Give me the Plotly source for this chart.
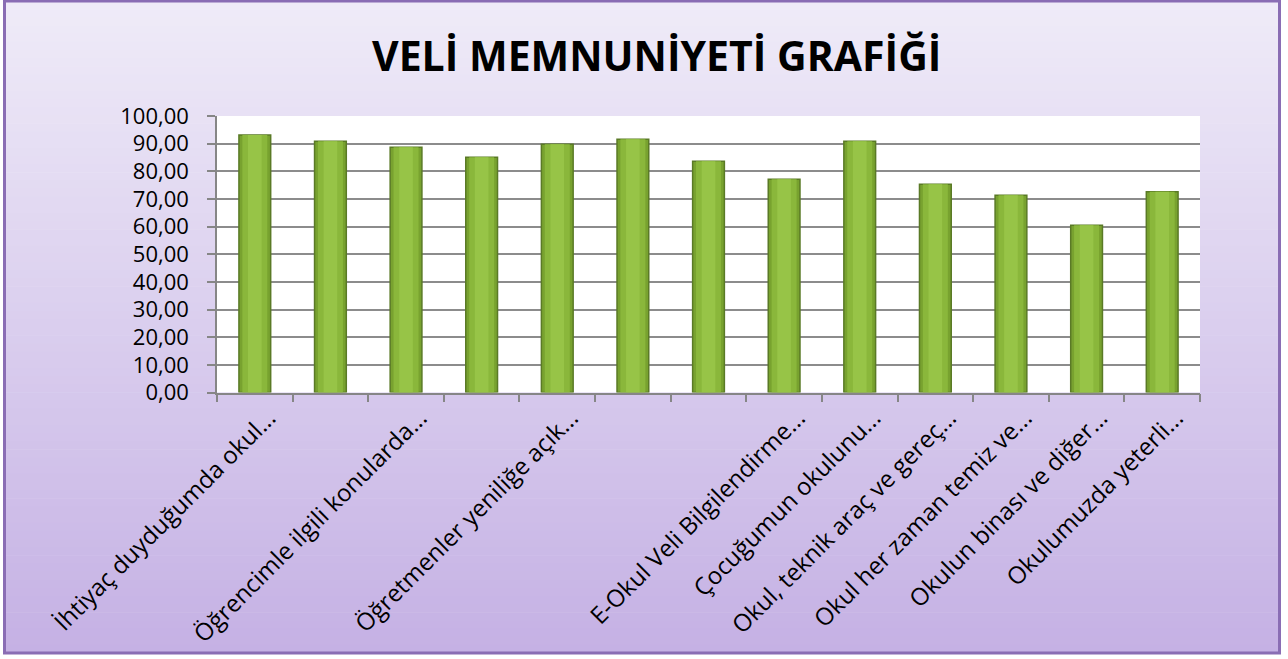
import plotly.graph_objects as go

W, H = 1288, 659

categories = [
    "İhtiyaç duyduğumda okul...",
    "",
    "Öğrencimle ilgili konularda...",
    "",
    "Öğretmenler yeniliğe açık...",
    "",
    "",
    "E-Okul Veli Bilgilendirme...",
    "Çocuğumun okulunu...",
    "Okul, teknik araç ve gereç...",
    "Okul her zaman temiz ve...",
    "Okulun binası ve diğer...",
    "Okulumuzda yeterli...",
]
values = [93.1, 90.9, 88.7, 85.1, 89.8, 91.6, 83.6, 77.1, 90.9, 75.3, 71.3, 60.5, 72.6]
y_ticks = [0, 10, 20, 30, 40, 50, 60, 70, 80, 90, 100]
title_text = "VELİ MEMNUNİYETİ GRAFİĞİ"

xpos = list(range(len(values)))

def px(x):
    return x / W

def py(y):
    return 1 - y / H

def hexc(c):
    return tuple(int(c[i:i + 2], 16) for i in (1, 3, 5))

top_c = hexc("#EFEBF8")
bot_c = hexc("#C5B1E4")

shapes = []
y0f, y1f = 1, 653
n = 80
for i in range(n):
    t = i / (n - 1)
    col = tuple(round(top_c[k] + (bot_c[k] - top_c[k]) * t) for k in range(3))
    a = y0f + (y1f - y0f) * i / n
    b = y0f + (y1f - y0f) * (i + 1) / n + 0.6
    shapes.append(dict(type="rect", xref="paper", yref="paper", layer="below",
                       x0=px(4), x1=px(1279), y0=py(b), y1=py(a),
                       fillcolor="rgb(%d,%d,%d)" % col, line=dict(width=0)))
# outer frame
shapes.append(dict(type="rect", xref="paper", yref="paper", layer="below",
                   x0=px(4.5), x1=px(1279.5), y0=py(653), y1=py(1),
                   fillcolor="rgba(0,0,0,0)", line=dict(color="#8A6DB4", width=3)))
# white plot area
shapes.append(dict(type="rect", xref="x domain", yref="y domain", layer="below",
                   x0=0, x1=1, y0=0, y1=1, fillcolor="white", line=dict(width=0)))

fig = go.Figure()
# layered bars to mimic the bevelled gradient look
fig.add_trace(go.Bar(
    x=xpos, y=values, width=0.42,
    marker=dict(color="#78A22F", line=dict(color="#5A7A26", width=1.5)),
    hovertemplate="%{y:.2f}<extra></extra>",
))
fig.add_trace(go.Bar(
    x=xpos, y=values, width=0.33,
    marker=dict(color="#8AB73B", line=dict(width=0)),
    hoverinfo="skip",
))
fig.add_trace(go.Bar(
    x=xpos, y=values, width=0.18,
    marker=dict(color="#97C447", line=dict(width=0)),
    hoverinfo="skip",
))

fig.update_layout(
    width=W, height=H,
    barmode="overlay",
    margin=dict(l=0, r=0, t=0, b=0),
    paper_bgcolor="white",
    plot_bgcolor="rgba(0,0,0,0)",
    separators=",.",
    showlegend=False,
    shapes=shapes,
    font=dict(family="Open Sans", color="black"),
    annotations=[dict(text="<b>" + title_text + "</b>", xref="paper", yref="paper",
                      x=px(656), y=py(55), xanchor="center", yanchor="middle",
                      showarrow=False, font=dict(family="Open Sans", size=41, color="black"))],
    xaxis=dict(
        domain=[px(217), px(1200)],
        range=[-0.5, len(values) - 0.5],
        tickmode="array", tickvals=xpos, ticktext=categories,
        tickangle=-45, ticks="", ticklabelshift=14,
        tickfont=dict(family="Open Sans", size=24, color="black"),
        showline=True, linecolor="#868686", linewidth=1.5,
        showgrid=False, zeroline=False,
        minor=dict(ticks="outside", tick0=-0.5, dtick=1, ticklen=8,
                   tickcolor="#868686", tickwidth=1.5, showgrid=False),
        automargin=False,
    ),
    yaxis=dict(
        domain=[py(392.5), py(116)],
        range=[0, 100],
        tickmode="array", tickvals=y_ticks, tickformat=".2f",
        ticks="outside", ticklen=8, tickcolor="#868686", tickwidth=1.5,
        ticklabelstandoff=14,
        tickfont=dict(family="Open Sans", size=22, color="black"),
        showline=True, linecolor="#868686", linewidth=1.5,
        showgrid=True, gridcolor="#8C8C8C", gridwidth=1.5,
        zeroline=False, automargin=False,
    ),
)

fig.write_html("out.html")
